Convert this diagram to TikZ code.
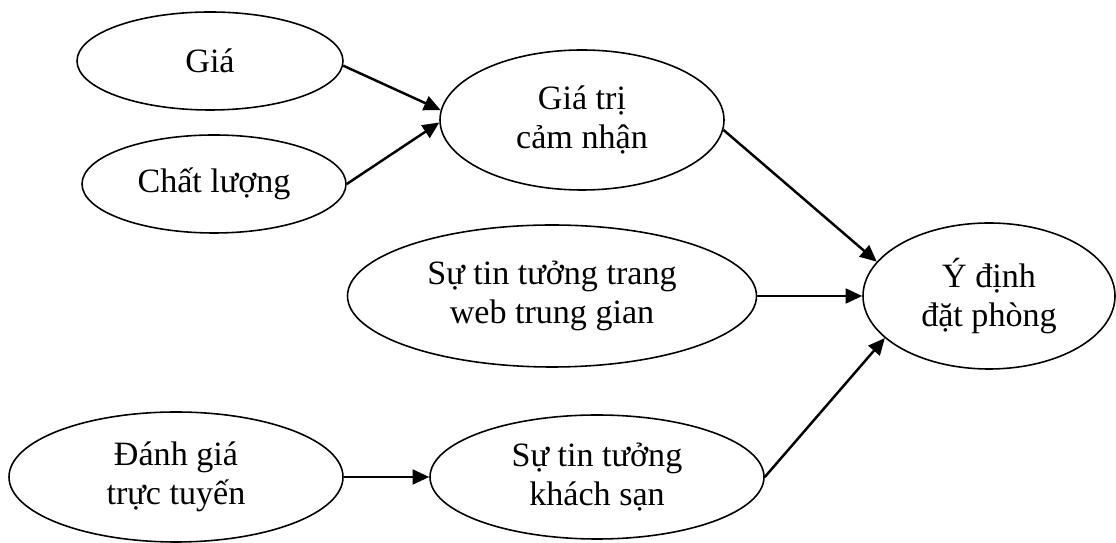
\documentclass[tikz,border=0pt]{standalone}
\usepackage{fontspec}
\setmainfont{Liberation Serif}
\usetikzlibrary{shapes.geometric,arrows.meta}
\begin{document}
\begin{tikzpicture}[
  factor/.style={ellipse, draw, line width=0.9pt, inner sep=0pt, align=center,
    font=\fontsize{19.4}{22.2}\selectfont},
  link/.style={-{Triangle[length=9.5pt,width=8.5pt]}, line width=1.4pt}]
\useasboundingbox (0,0) rectangle (22.32,10.86);

\node [factor, minimum width=5.32cm, minimum height=1.96cm] (gia) at (4.20,9.64) {Giá};
\node [factor, minimum width=5.28cm, minimum height=1.96cm] (chatluong) at (4.28,7.18) {Chất lượng};
\node [factor, minimum width=5.68cm, minimum height=2.80cm] (giatri) at (11.64,8.46) {Giá trị\\cảm nhận};
\node [factor, minimum width=8.18cm, minimum height=2.84cm] (webtg) at (11.04,4.94) {Sự tin tưởng trang\\web trung gian};
\node [factor, minimum width=5.04cm, minimum height=2.92cm] (ydinh) at (19.78,4.94) {Ý định\\đặt phòng};
\node [factor, minimum width=6.68cm, minimum height=2.60cm] (danhgia) at (3.52,1.32) {Đánh giá\\trực tuyến};
\node [factor, minimum width=6.68cm, minimum height=2.48cm] (khachsan) at (11.94,1.32) {Sự tin tưởng\\khách sạn};

\draw [link] (gia.-2) -- (giatri.176);
\draw [link] (chatluong.east) -- (giatri.181);
\draw [link] (giatri.-4) -- (ydinh.163);
\draw [link] (webtg.east) -- (ydinh.west);
\draw [link] (danhgia.east) -- (khachsan.west);
\draw [link] (khachsan.east) -- (ydinh.202);

\end{tikzpicture}
\end{document}
